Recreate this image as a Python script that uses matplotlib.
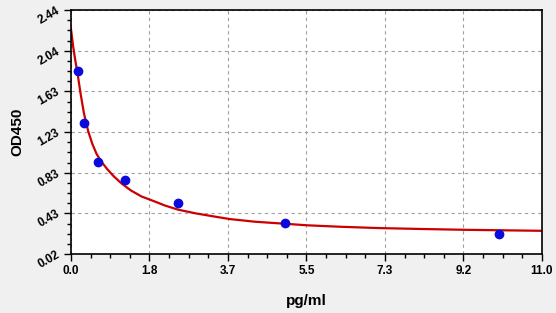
import numpy as np
import matplotlib
matplotlib.use("Agg")
import matplotlib.pyplot as plt
from matplotlib.ticker import AutoMinorLocator

plt.rcParams['font.family'] = ['Liberation Sans', 'DejaVu Sans']

# standards
conc = [0.156, 0.3125, 0.625, 1.25, 2.5, 5.0, 10.0]
od = [1.84, 1.32, 0.93, 0.75, 0.53, 0.33, 0.22]

# fitted curve
curve_x = [0.0, 0.05, 0.10, 0.15, 0.22, 0.30, 0.40, 0.50, 0.60, 0.72, 0.85, 1.0,
           1.18, 1.4, 1.65, 1.9, 2.2, 2.5, 2.9, 3.3, 3.7, 4.3, 5.0, 5.5, 6.3,
           7.2, 8.2, 9.2, 10.1, 11.0]
curve_y = [2.25, 2.08, 1.94, 1.82, 1.62, 1.42, 1.24, 1.11, 1.01, 0.93, 0.86, 0.79,
           0.72, 0.65, 0.59, 0.55, 0.50, 0.46, 0.424, 0.395, 0.367, 0.34, 0.32, 0.305, 0.29,
           0.277, 0.268, 0.26, 0.255, 0.25]

x_labels = ["0.0", "1.8", "3.7", "5.5", "7.3", "9.2", "11.0"]
y_labels = ["0.02", "0.43", "0.83", "1.23", "1.63", "2.04", "2.44"]

fig = plt.figure(figsize=(5.56, 3.13), dpi=100, facecolor="#f0f0f0")
ax = fig.add_axes([0.1277, 0.1885, 0.8471, 0.7795])
ax.set_facecolor("white")

ax.plot(curve_x, curve_y, color="#cc0000", lw=1.6, zorder=2)
ax.plot(conc, od, "o", color="#0a0adc", markersize=6, zorder=3)

ax.set_xlim(0, 11)
ax.set_ylim(0.02, 2.44)
ax.set_xticks(np.linspace(0, 11, 7))
ax.set_xticklabels(x_labels, fontweight="bold", fontsize=8.5)
ax.set_yticks(np.linspace(0.02, 2.44, 7))
ax.set_yticklabels(y_labels, fontweight="bold", fontsize=8.5, rotation=30,
                   rotation_mode="anchor", ha="right", va="center")
ax.xaxis.set_minor_locator(AutoMinorLocator(4))
ax.yaxis.set_minor_locator(AutoMinorLocator(4))
ax.tick_params(which="major", length=5, width=1, color="black", pad=3)
ax.tick_params(which="minor", length=3, width=1, color="black")
ax.tick_params(axis="y", pad=4)

ax.grid(True, which="major", linestyle=(0, (3, 3)), color="#a0a0a0", lw=0.8)
for s in ax.spines.values():
    s.set_color("black")
    s.set_linewidth(1.2)

ax.set_xlabel("pg/ml", fontweight="bold", fontsize=11, labelpad=12)
ax.set_ylabel("OD450", fontweight="bold", fontsize=11, labelpad=8)

fig.savefig("out.png", dpi=100, facecolor=fig.get_facecolor())
